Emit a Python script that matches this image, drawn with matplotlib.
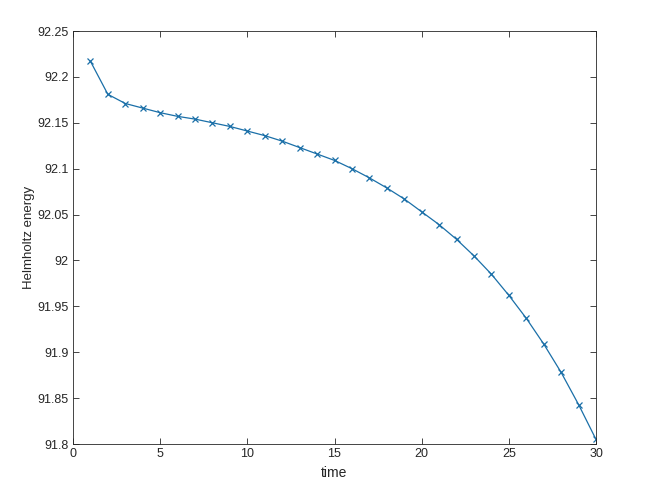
import matplotlib
matplotlib.use("Agg")
import matplotlib.pyplot as plt

time = list(range(1, 31))
helmholtz = [92.217, 92.181, 92.171, 92.166, 92.161, 92.157, 92.154, 92.150, 92.146, 92.141,
             92.136, 92.130, 92.123, 92.116, 92.109, 92.100, 92.090, 92.079, 92.067, 92.053,
             92.039, 92.023, 92.005, 91.985, 91.962, 91.937, 91.909, 91.878, 91.843, 91.805]
xticks = [0, 5, 10, 15, 20, 25, 30]
yticks = [91.8, 91.85, 91.9, 91.95, 92.0, 92.05, 92.1, 92.15, 92.2, 92.25]
ytick_labels = ["91.8", "91.85", "91.9", "91.95", "92", "92.05", "92.1", "92.15", "92.2", "92.25"]

plt.rcParams['font.family'] = ['Liberation Sans', 'DejaVu Sans']
fig = plt.figure(figsize=(6.51, 4.94), dpi=100)
ax = fig.add_axes([73/651, 1-444/494, (596-73)/651, (444-31)/494])
ax.plot(time, helmholtz, color='#1a6fa8', linewidth=0.9, marker='x', markersize=5,
        markeredgewidth=0.9)
ax.set_xlim(0, 30)
ax.set_ylim(91.8, 92.25)
ax.set_xticks(xticks)
ax.set_yticks(yticks)
ax.set_yticklabels(ytick_labels)
ax.tick_params(direction='in', top=True, right=True, length=4, width=0.6,
               colors='#262626', labelsize=9, pad=3)
for s in ax.spines.values():
    s.set_color('#262626')
    s.set_linewidth(0.6)
ax.set_xlabel('time', fontsize=10, color='#262626', labelpad=4)
ax.set_ylabel('Helmholtz energy', fontsize=9.5, color='#262626')
ax.yaxis.set_label_coords(-0.073, 0.5)
fig.savefig('out.png', dpi=100)
